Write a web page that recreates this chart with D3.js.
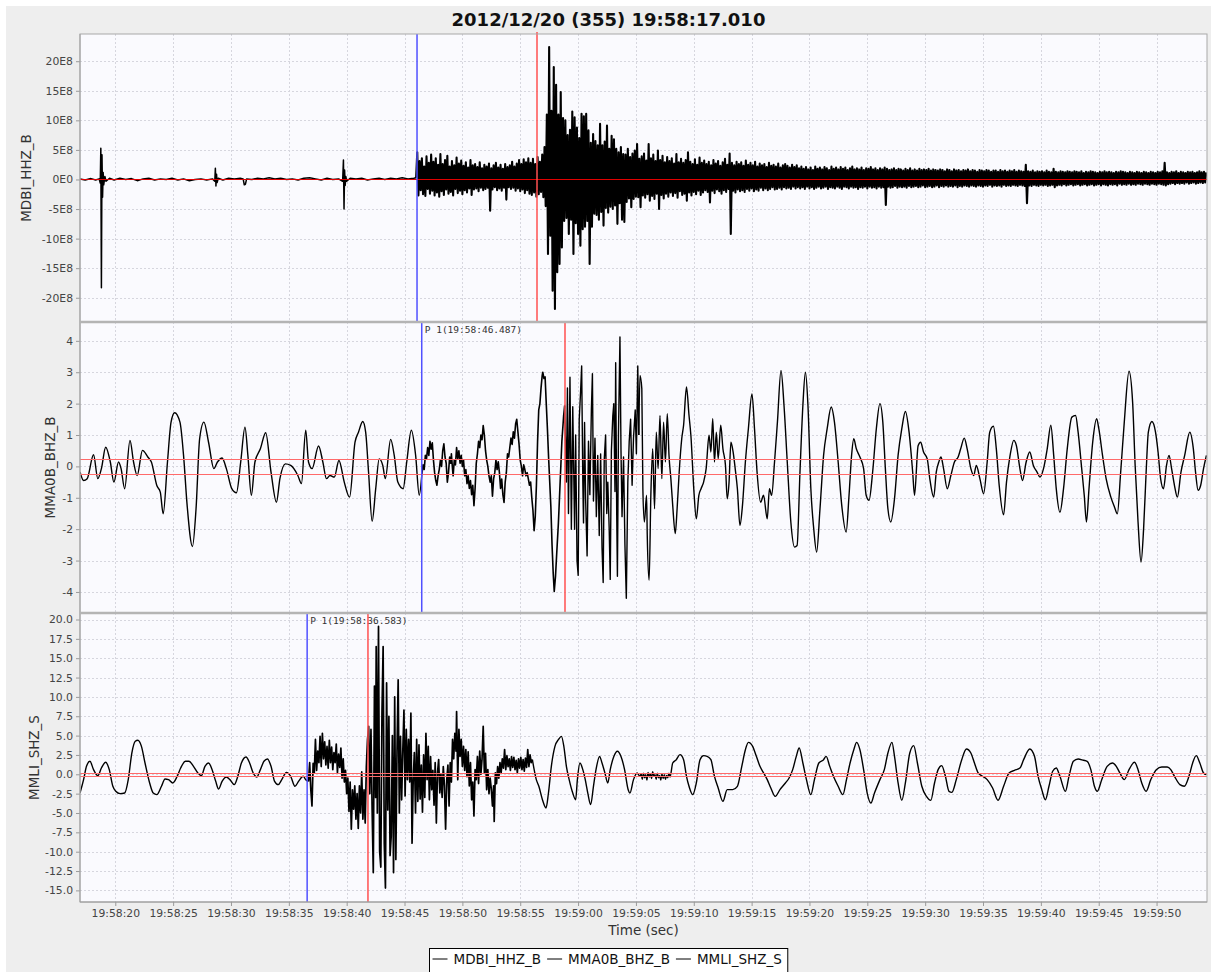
<!DOCTYPE html>
<html><head><meta charset="utf-8">
<script src="https://cdn.jsdelivr.net/npm/d3@7"></script>
<style>
body{margin:0;background:#fff;}
svg{display:block;font-family:"DejaVu Sans",sans-serif;}
</style></head><body>
<svg id="chart" width="1211" height="972"></svg>
<script>
// ---------------- DATA ----------------
const titleText = "2012/12/20 (355) 19:58:17.010";
const timeDomain = [16.95, 114.36]; // seconds after 19:58:00
const timeTickSeconds = [20,25,30,35,40,45,50,55,60,65,70,75,80,85,90,95,100,105,110];
const timeTickLabels = ["19:58:20","19:58:25","19:58:30","19:58:35","19:58:40","19:58:45","19:58:50","19:58:55","19:59:00","19:59:05","19:59:10","19:59:15","19:59:20","19:59:25","19:59:30","19:59:35","19:59:40","19:59:45","19:59:50"];
const seriesNames = ["MDBI_HHZ_B","MMA0B_BHZ_B","MMLI_SHZ_S"];

// Station 1 : MDBI_HHZ_B (units of 1E8)
const mdbiTicks = [-20,-15,-10,-5,0,5,10,15,20];
const mdbiTickLabels = ["-20E8","-15E8","-10E8","-5E8","0E0","5E8","10E8","15E8","20E8"];
const mdbiRef = [0];
const mdbiPicks = [{t:46.08,kind:"P",label:""},{t:56.45,kind:"S",label:""}];
const mdbiQuiet = [[16.95,0.1],[17.4,-0.1],[17.9,0.15],[18.3,-0.1],[18.6,0.1],[18.7,-0.6],[18.75,5.3],[18.8,-18.3],[18.85,4.2],[18.9,-3.0],[18.95,1.2],[19.0,-0.9],[19.1,0.5],[19.2,-0.3],[19.5,0.2],[19.9,-0.1],[20.4,0.2],[20.9,0.0],[21.4,0.15],[21.9,-0.2],[22.4,0.1],[22.9,0.2],[23.4,-0.1],[23.9,0.1],[24.4,0.0],[24.9,0.2],[25.4,-0.1],[25.9,0.1],[26.4,-0.2],[26.9,0.0],[27.4,0.1],[27.9,-0.1],[28.4,0.1],[28.6,-0.3],[28.65,1.9],[28.7,-1.1],[28.75,0.9],[28.8,-0.5],[28.9,0.2],[29.3,-0.1],[29.8,0.2],[30.3,0.1],[30.8,0.2],[31.05,0.1],[31.15,-0.9],[31.25,-0.8],[31.35,0.1],[31.8,0.0],[32.3,0.2],[32.8,0.1],[33.3,0.3],[33.8,0.1],[34.3,0.2],[34.8,0.0],[35.3,0.1],[35.8,-0.1],[36.3,0.2],[36.8,0.3],[37.3,0.1],[37.8,-0.1],[38.3,0.2],[38.8,0.0],[39.3,0.1],[39.65,-0.3],[39.72,3.3],[39.77,-5.0],[39.82,1.6],[39.87,-1.0],[39.93,0.5],[40.0,-0.3],[40.3,0.2],[40.8,0.1],[41.3,0.2],[41.8,-0.1],[42.3,0.1],[42.8,0.2],[43.3,0.0],[43.8,0.2],[44.3,0.1],[44.8,0.3],[45.3,0.1],[45.8,0.2],[46.0,0.3]];
const mdbiBurstStart = 46.1, mdbiSampleStep = 0.1;
const mdbiBurst = [
4.6,-2.7,3.1,-1.8,3.6,-2.5,2.2,-2.8,3.9,-1.6,
2.8,-2.4,4.2,-1.9,3.0,-2.7,3.6,-2.2,2.5,-2.9,
4.3,-2.0,2.6,-2.6,3.3,-1.7,4.0,-2.4,2.2,-2.1,
3.1,-2.7,2.4,-1.6,3.7,-2.3,2.7,-1.9,3.2,-2.5,
2.3,-1.8,2.9,-2.2,2.0,-1.5,3.3,-2.6,2.4,-1.7,
2.6,-1.5,2.1,-2.0,2.9,-1.4,1.9,-1.8,2.5,-1.6,
2.2,-1.4,2.7,-5.3,1.9,-1.7,2.4,-1.3,2.8,-1.8,
2.0,-1.5,2.5,-1.9,1.8,-1.4,2.6,-3.4,2.1,-1.3,
2.4,-1.6,3.0,-1.4,2.2,-1.9,2.7,-1.5,3.3,-2.0,
2.6,-1.7,3.4,-2.3,2.9,-1.8,3.6,-2.4,2.8,-2.6,
3.5,-2.2,2.6,-2.9,3.8,-2.5,3.0,-2.1,4.2,-3.0,
5.5,-4.5,11.0,-12.6,22.4,-9.5,11.6,-18.8,19.0,-21.9,
16.0,-15.7,11.0,-14.3,14.8,-11.5,10.4,-7.0,10.0,-6.5,
7.5,-9.2,8.4,-6.8,11.5,-12.6,10.5,-7.4,8.8,-9.2,
7.0,-11.2,11.1,-8.4,10.7,-8.0,11.1,-7.0,8.3,-14.3,
6.2,-8.0,7.7,-5.8,6.5,-6.0,5.8,-6.8,9.4,-5.5,
5.8,-7.8,6.4,-4.8,9.1,-5.6,5.2,-4.6,7.4,-5.0,
6.8,-4.4,5.2,-7.5,4.6,-4.0,5.5,-6.8,4.3,-7.2,
4.2,-3.8,5.2,-3.2,3.8,-4.7,4.4,-3.3,4.9,-2.9,
6.0,-3.0,3.5,-4.7,3.9,-2.7,4.4,-3.1,3.2,-2.5,
6.0,-3.6,3.6,-2.8,4.2,-3.3,3.1,-2.4,4.9,-5.0,
3.3,-2.6,4.0,-3.2,2.9,-2.4,3.8,-2.9,3.1,-2.2,
3.6,-2.8,2.7,-2.3,4.3,-3.1,2.9,-2.0,3.5,-2.6,
2.8,-2.4,3.3,-3.6,4.6,-2.2,3.0,-2.7,2.6,-2.1,
3.4,-2.5,2.5,-1.9,3.7,-2.6,2.8,-2.2,3.2,-1.8,
2.6,-2.1,3.0,-3.9,2.4,-1.9,3.3,-2.3,2.7,-1.7,
3.1,-2.0,2.3,-2.4,2.9,-1.8,3.5,-2.1,2.5,-1.6,
4.4,-9.2,2.8,-1.9,2.4,-2.2,3.0,-1.7,2.6,-2.0,
2.9,-1.8,2.3,-2.1,3.2,-1.6,2.5,-1.9,2.8,-1.5,
2.4,-2.0,3.0,-1.7,2.2,-1.9,2.7,-1.4,2.4,-1.8,
2.6,-1.5,2.1,-1.8,2.8,-1.6,2.3,-1.3,2.5,-1.7,
2.2,-1.6,2.7,-1.4,2.0,-1.7,2.4,-1.3,2.6,-1.5,
2.3,-1.4,2.0,-1.6,2.5,-1.2,2.1,-1.5,2.4,-1.3,
1.9,-1.5,2.2,-1.3,1.8,-1.6,2.1,-1.2,1.7,-1.5,
2.0,-1.3,1.6,-1.6,2.2,-1.4,1.8,-1.2,2.0,-1.5,
1.7,-1.4,2.1,-1.2,1.9,-1.6,1.6,-1.3,2.2,-1.4,
1.8,-1.5,2.0,-1.2,1.7,-1.4,2.1,-1.6,1.8,-1.2,
2.0,-1.3,1.6,-1.5,1.9,-1.2,2.2,-1.4,1.7,-1.3,
1.9,-1.6,1.7,-1.3,2.0,-1.4,1.6,-1.2,1.9,-1.5,
1.8,-1.2,2.1,-1.4,1.7,-1.3,1.9,-1.5,1.6,-1.2,
1.9,-1.4,1.7,-1.3,2.0,-4.3,1.8,-1.2,1.6,-1.4,
1.7,-1.3,1.9,-1.1,1.6,-1.4,1.8,-1.2,1.7,-1.3,
1.5,-1.2,1.8,-1.4,1.6,-1.1,1.9,-1.3,1.5,-1.2,
1.7,-1.1,1.5,-1.3,1.8,-1.2,1.6,-1.0,1.7,-1.3,
1.6,-1.2,1.8,-1.1,1.5,-1.3,1.7,-1.2,1.6,-1.0,
1.5,-1.3,1.7,-1.1,1.6,-1.2,1.4,-1.0,1.7,-1.2,
1.6,-1.1,1.4,-1.2,1.7,-1.0,1.5,-1.3,1.6,-1.1,
1.4,-1.2,1.6,-1.0,1.5,-1.1,1.7,-1.2,1.4,-1.0,
1.6,-1.1,1.5,-1.2,1.3,-1.0,1.6,-1.1,1.5,-1.2,
1.4,-1.0,1.6,-1.1,1.5,-0.9,1.3,-1.2,1.5,-1.0,
1.5,-1.1,1.3,-1.0,1.6,-1.2,1.4,-0.9,1.5,-1.1,
1.3,-1.0,1.5,-1.1,1.4,-0.9,1.6,-1.0,1.3,-1.1,
1.5,-0.9,1.4,-1.0,1.3,-1.1,2.5,-4.0,1.4,-1.0,
1.3,-1.1,1.5,-0.9,1.2,-1.0,1.4,-1.1,1.3,-0.9,
1.4,-1.0,1.2,-0.9,1.5,-1.1,1.3,-1.0,1.2,-0.9,
1.8,-1.3,1.3,-1.0,1.2,-0.9,1.4,-1.0,1.3,-0.8,
1.2,-1.0,1.4,-0.9,1.3,-0.8,1.2,-1.0,1.4,-0.9,
1.3,-0.8,1.2,-1.0,1.4,-0.9,1.1,-0.8,1.3,-1.0,
1.2,-0.9,1.4,-0.8,1.3,-1.0,1.2,-0.9,1.1,-0.8,
1.3,-1.0,1.2,-0.8,1.4,-0.9,1.2,-1.0,1.3,-0.8,
1.2,-0.9,1.1,-0.8,1.3,-1.0,1.2,-0.7,1.4,-0.9,
1.3,-0.8,1.2,-0.9,1.1,-0.7,1.3,-0.9,1.2,-0.8,
1.1,-0.9,1.3,-0.7,1.2,-0.8,1.1,-0.9,1.3,-0.7,
1.2,-0.8,1.1,-0.9,1.3,-0.7,1.2,-0.8,1.1,-0.9,
1.3,-0.7,1.2,-0.8,1.4,-0.9,2.8,-1.0,1.2,-0.8,
1.1,-0.7,1.3,-0.6,1.2,-0.8,1.4,-0.6,1.1,-0.7,
1.3,-0.6,1.2,-0.7,1.1,-0.5,1.3,-0.7,1.2,-0.6,
1.3,-0.5,1.1,-0.7,1.2,-0.6,1.4,-0.5,1.2,-0.6,1.3,-0.5,1.2];

// Station 2 : MMA0B_BHZ_B
const mma0bTicks = [-4,-3,-2,-1,0,1,2,3,4];
const mma0bTickLabels = ["-4","-3","-2","-1","0","1","2","3","4"];
const mma0bRef = [0.22,-0.25];
const mma0bPicks = [{t:46.487,kind:"P",label:"P 1(19:58:46.487)"},{t:58.87,kind:"S",label:""}];
const mma0bPre = [[16.95,-0.18],[17.26,-0.45],[17.57,-0.39],[18.12,0.37],[18.49,-0.39],[18.80,-0.07],[19.17,0.61],[19.57,0.14],[19.88,-0.50],[20.28,0.14],[20.50,-0.07],[20.81,-0.71],[21.27,0.83],[21.58,0.14],[21.89,-0.29],[22.35,0.51],[22.81,0.30],[23.12,0.14],[23.59,-0.61],[23.89,-0.82],[24.14,-1.51],[24.51,0.14],[24.82,1.41],[25.13,1.71],[25.59,1.41],[25.90,0.35],[26.21,-1.24],[26.67,-2.55],[26.98,-1.35],[27.29,0.88],[27.66,1.41],[28.06,0.77],[28.52,-0.07],[28.83,0.14],[29.23,0.27],[29.60,-0.07],[30.07,-0.71],[30.47,-0.84],[30.84,0.14],[31.21,1.25],[31.46,0.35],[31.76,-0.92],[32.07,0.14],[32.54,0.56],[33.00,1.07],[33.46,-0.18],[33.93,-1.14],[34.23,-0.39],[34.70,0.08],[35.16,0.03],[35.78,-0.29],[36.09,-0.55],[36.46,1.15],[36.70,0.14],[37.01,-0.07],[37.57,0.65],[37.94,0.14],[38.25,-0.39],[38.56,-0.29],[38.93,-0.34],[39.33,0.19],[39.79,-0.50],[40.25,-0.98],[40.72,0.77],[41.02,1.09],[41.39,1.43],[41.64,1.09],[41.89,-0.18],[42.20,-1.75],[42.51,-0.71],[42.81,0.24],[43.12,0.03],[43.34,-0.39],[43.80,0.86],[44.11,0.35],[44.42,-0.50],[44.88,-0.71],[45.19,0.14],[45.59,1.15],[45.96,0.35],[46.27,-0.92],[46.49,-0.29]];
const mma0bOnset = [[46.6,0.05],[46.7,-0.1],[46.8,0.35],[46.9,0.25],[47.0,0.6],[47.1,0.35],[47.2,0.8],[47.3,0.55],[47.4,0.75],[47.5,0.2],[47.6,-0.2],[47.7,-0.45],[47.8,-0.6],[47.9,-0.3],[48.0,-0.1],[48.1,0.2],[48.2,0.0],[48.3,0.5],[48.4,0.72],[48.5,0.3],[48.6,0.1],[48.7,-0.5],[48.8,-0.2],[48.9,0.3],[49.0,0.1],[49.05,0.4],[49.15,-0.1],[49.2,-0.3],[49.3,0.2],[49.4,0.05],[49.5,0.6],[49.6,0.25],[49.7,0.5],[49.8,0.1],[49.9,0.35],[50.0,0.0],[50.1,0.2],[50.2,-0.3],[50.3,-0.1],[50.4,-0.55],[50.5,-0.3],[50.6,-0.7],[50.7,-0.45],[50.8,-0.9],[50.9,-0.6],[51.0,-1.25],[51.1,-0.7],[51.2,0.1],[51.3,0.4],[51.4,0.8],[51.5,0.6],[51.6,1.0],[51.7,0.85],[51.8,1.3],[51.9,1.0],[52.0,0.5],[52.1,0.2],[52.2,0.0],[52.3,-0.3],[52.4,-0.5],[52.5,-0.3],[52.6,-0.95],[52.7,-0.4],[52.8,-0.2],[52.9,0.2],[53.0,-0.1],[53.1,0.15],[53.2,-0.2],[53.3,-0.7],[53.4,-0.4],[53.5,-0.9],[53.6,-1.15],[53.7,-0.5],[53.8,-0.2],[53.9,0.4],[54.0,0.3],[54.1,0.6],[54.2,0.9],[54.3,0.7],[54.4,1.1],[54.5,0.9],[54.6,1.35],[54.7,1.5],[54.8,1.1],[54.9,0.7],[55.0,0.2],[55.1,0.0],[55.2,-0.3],[55.3,0.05],[55.4,-0.1],[55.5,-0.3],[55.6,-0.2],[55.7,-0.4],[55.8,-0.6],[55.9,-0.5],[56.0,-1.0],[56.1,-1.4],[56.2,-2.05],[56.3,-1.6],[56.4,-0.6],[56.5,0.8],[56.6,1.8],[56.7,2.0],[56.8,2.5],[56.9,2.9],[56.95,3.0],[57.05,2.8],[57.15,2.85],[57.25,2.0],[57.35,1.2],[57.45,0.3],[57.55,-0.5],[57.65,-1.3],[57.75,-2.5],[57.85,-3.4],[57.94,-3.98],[58.05,-3.5],[58.15,-2.8],[58.3,-1.8],[58.45,-0.5],[58.6,0.8],[58.75,1.6],[58.84,1.94]];
const mma0bPeak = [[58.99,-0.5],[59.08,2.5],[59.17,-1.5],[59.30,2.84],[59.42,-2.0],[59.54,1.9],[59.70,-2.0],[59.79,1.0],[59.91,-3.0],[60.01,-3.47],[60.10,1.5],[60.22,2.4],[60.31,3.2],[60.41,-0.5],[60.47,-1.8],[60.56,1.4],[60.65,-1.0],[60.78,-2.85],[60.90,0.8],[61.02,-0.9],[61.15,1.8],[61.24,2.95],[61.33,-1.1],[61.46,0.9],[61.58,-1.6],[61.70,0.35],[61.83,-2.2],[61.95,0.4],[62.07,-2.6],[62.17,-3.7],[62.26,0.2],[62.38,1.0],[62.48,-1.5],[62.57,-0.5],[62.69,-2.0],[62.78,-3.6],[62.88,0.5],[63.00,1.6],[63.09,2.0],[63.19,-0.8],[63.25,3.3],[63.34,-1.5],[63.40,-3.5],[63.49,1.0],[63.62,4.12],[63.71,0.5],[63.80,-1.6],[63.93,0.3],[64.05,-2.5],[64.17,-4.2],[64.30,-0.5],[64.42,0.8],[64.54,1.5],[64.67,-0.6],[64.79,0.9],[64.94,1.8],[65.04,0.4],[65.16,3.2],[65.25,1.0]];
const mma0bCoda = [[65.35,2.90],[65.51,2.47],[65.60,-0.71],[65.73,-1.77],[65.92,-0.92],[65.98,-2.20],[66.14,-3.63],[66.29,-0.92],[66.45,0.56],[66.61,-1.35],[66.76,1.09],[66.92,-0.07],[67.08,1.62],[67.24,-0.39],[67.39,1.41],[67.55,0.14],[67.71,1.68],[67.86,0.35],[68.02,-0.39],[68.18,-1.24],[68.40,-2.14],[68.56,-1.35],[68.74,-0.18],[68.96,0.88],[69.12,1.31],[69.37,2.53],[69.59,1.62],[69.75,0.99],[70.0,-0.71],[70.22,-1.67],[70.44,-0.92],[70.63,-0.71],[70.85,-0.50],[71.07,-0.07],[71.32,0.99],[71.48,0.46],[71.64,1.52],[71.79,0.14],[71.95,1.09],[72.11,0.24],[72.33,1.31],[72.52,0.56],[72.74,0.03],[72.89,-1.03],[73.05,-0.50],[73.21,0.77],[73.40,0.46],[73.58,-0.07],[73.77,-0.71],[73.99,-1.88],[74.21,-1.24],[74.46,0.14],[74.72,1.20],[75.03,2.31],[75.25,1.20],[75.47,-0.18],[75.78,-1.14],[76.03,-0.92],[76.35,-1.67],[76.54,-0.71],[76.73,-0.92],[76.98,0.14],[77.23,1.41],[77.54,3.06],[77.80,1.94],[78.08,0.14],[78.39,-1.77],[78.71,-2.57],[78.93,-2.52],[79.18,-0.18],[79.43,1.94],[79.65,3.0],[79.87,1.94],[80.12,-0.71],[80.37,-1.99],[80.62,-2.73],[80.91,-1.35],[81.22,0.35],[81.53,1.20],[81.88,1.89],[82.16,1.41],[82.48,0.14],[82.79,-1.24],[83.17,-2.09],[83.42,-0.92],[83.64,0.35],[83.83,0.88],[84.05,0.56],[84.36,0.30],[84.68,-0.07],[84.90,-0.92],[85.15,-1.08],[85.46,-0.18],[85.78,1.20],[86.09,2.0],[86.34,1.41],[86.56,-0.07],[86.78,-1.35],[87.03,-1.77],[87.35,-1.03],[87.66,0.35],[87.98,1.20],[88.29,1.75],[88.61,1.09],[88.92,-0.18],[89.08,-0.92],[89.39,0.66],[89.61,0.77],[89.86,0.46],[90.18,0.24],[90.40,-0.39],[90.74,-0.98],[90.96,-0.18],[91.18,0.14],[91.37,0.30],[91.59,-0.07],[91.91,-0.71],[92.22,-0.29],[92.53,0.14],[92.85,0.30],[93.07,0.56],[93.38,0.90],[93.63,0.56],[93.95,-0.07],[94.20,-0.29],[94.42,0.03],[94.73,-0.39],[95.05,-0.87],[95.36,0.14],[95.58,1.09],[95.90,1.28],[96.15,0.56],[96.40,-0.61],[96.78,-1.54],[97.03,-0.50],[97.34,0.35],[97.66,0.83],[97.88,0.67],[98.19,-0.07],[98.41,-0.45],[98.73,0.14],[99.04,0.46],[99.35,0.03],[99.67,-0.18],[99.92,-0.34],[100.23,-0.07],[100.55,0.56],[100.86,1.31],[101.11,0.35],[101.33,-0.71],[101.65,-1.46],[101.96,-0.71],[102.28,0.56],[102.68,1.57],[103.0,1.62],[103.22,1.09],[103.53,-0.07],[103.75,-0.92],[103.94,-1.77],[104.16,-0.71],[104.48,0.77],[104.82,1.52],[105.01,1.20],[105.33,0.35],[105.64,-0.39],[106.05,-0.98],[106.36,-1.29],[106.61,-1.51],[106.90,-0.18],[107.21,1.41],[107.62,3.03],[107.93,2.05],[108.15,0.03],[108.40,-1.77],[108.66,-3.05],[108.88,-1.99],[109.10,-0.18],[109.29,1.09],[109.60,1.43],[109.91,1.09],[110.13,0.46],[110.35,-0.39],[110.60,-0.71],[110.86,0.03],[111.08,0.35],[111.30,-0.07],[111.55,-0.61],[111.80,-0.98],[112.11,-0.18],[112.43,0.35],[112.87,1.09],[113.18,0.56],[113.37,-0.18],[113.59,-0.76],[113.81,-0.61],[114.06,-0.07],[114.31,0.35]];

// Station 3 : MMLI_SHZ_S
const mmliTicks = [-15,-12.5,-10,-7.5,-5,-2.5,0,2.5,5,7.5,10,12.5,15,17.5,20];
const mmliTickLabels = ["-15.0","-12.5","-10.0","-7.5","-5.0","-2.5","0.0","2.5","5.0","7.5","10.0","12.5","15.0","17.5","20.0"];
const mmliRef = [0.21,-0.22];
const mmliPicks = [{t:36.583,kind:"P",label:"P 1(19:58:36.583)"},{t:41.84,kind:"S",label:""}];
const mmliPre = [[16.95,-2.42],[17.26,-0.69],[17.51,1.03],[17.81,1.68],[18.12,0.60],[18.49,-0.18],[18.80,0.81],[19.17,1.55],[19.48,0.60],[19.79,-1.55],[20.04,-2.20],[20.41,-2.50],[20.81,-2.42],[21.12,-0.69],[21.43,2.75],[21.73,4.26],[21.95,4.39],[22.26,3.61],[22.57,1.46],[22.97,-1.12],[23.28,-2.42],[23.59,-2.63],[23.99,-1.55],[24.30,-0.61],[24.60,-0.69],[24.97,-1.12],[25.35,-0.26],[25.65,0.81],[26.06,1.68],[26.36,1.68],[26.76,1.03],[27.14,0.17],[27.44,-0.18],[27.75,1.03],[28.06,1.46],[28.37,0.60],[28.68,-0.91],[28.93,-1.90],[29.23,-0.91],[29.60,-0.35],[29.91,-0.69],[30.28,-1.34],[30.59,-0.26],[30.90,1.46],[31.30,2.24],[31.61,1.46],[31.92,0.17],[32.23,-0.35],[32.54,0.60],[32.85,1.68],[33.15,1.98],[33.46,1.03],[33.77,-0.91],[34.08,-1.34],[34.39,-0.69],[34.79,0.25],[35.16,-0.26],[35.53,-1.55],[35.84,-0.91],[36.24,-0.26],[36.46,-0.69],[36.70,-0.91]];
const mmliBurst = [[36.8,1.5],[36.9,-2.0],[37.0,-4.1],[37.1,1.4],[37.2,0.2],[37.3,4.5],[37.4,0.5],[37.5,3.0],[37.6,1.5],[37.7,4.9],[37.8,1.0],[37.9,5.3],[38.0,2.0],[38.1,4.2],[38.2,1.2],[38.3,3.6],[38.4,0.8],[38.5,4.4],[38.6,1.5],[38.7,3.5],[38.8,0.6],[38.9,2.8],[39.0,1.5],[39.1,3.9],[39.2,0.2],[39.3,2.6],[39.4,0.9],[39.5,3.4],[39.6,-0.5],[39.7,2.0],[39.8,-1.0],[39.9,0.5],[40.0,-2.5],[40.1,-0.5],[40.2,-4.8],[40.3,-1.0],[40.4,-7.1],[40.5,-2.0],[40.6,-4.5],[40.7,-1.5],[40.8,-5.8],[40.9,-2.5],[41.0,-7.0],[41.1,-1.5],[41.2,-5.0],[41.3,0.3],[41.4,-5.8],[41.5,-2.0],[41.6,-6.3],[41.7,1.0],[41.8,4.5],[41.9,6.2],[42.0,-2.5],[42.1,5.8],[42.2,-4.6],[42.3,-12.7],[42.4,11.4],[42.5,-3.0],[42.55,16.5],[42.65,-5.0],[42.75,19.1],[42.85,-10.0],[42.95,-12.0],[43.05,8.0],[43.15,16.5],[43.25,-9.0],[43.35,-14.7],[43.45,11.8],[43.55,-4.6],[43.65,7.5],[43.75,-10.5],[43.85,-8.0],[43.95,5.0],[44.05,-12.7],[44.15,10.0],[44.25,-11.0],[44.35,3.0],[44.45,12.2],[44.55,-5.0],[44.65,4.9],[44.75,-3.3],[44.85,3.0],[44.95,8.3],[45.05,-2.8],[45.15,5.8],[45.25,-0.7],[45.35,4.5],[45.45,-1.0],[45.55,7.9],[45.65,-8.9],[45.75,-0.7],[45.85,2.8],[45.95,-5.0],[46.05,4.5],[46.15,-3.5],[46.25,3.8],[46.35,-3.2],[46.45,1.2],[46.55,-4.9],[46.65,2.5],[46.75,-3.0],[46.85,5.3],[46.95,-0.7],[47.05,3.6],[47.15,-3.3],[47.25,2.3],[47.35,-2.0],[47.45,0.5],[47.55,-4.0],[47.65,1.5],[47.75,-6.3],[47.85,0.2],[47.95,1.9],[48.05,-2.4],[48.15,0.0],[48.25,-3.0],[48.35,1.0],[48.45,-1.5],[48.55,-7.1],[48.65,-0.7],[48.75,1.2],[48.85,-4.1],[48.95,1.5],[49.05,-1.0],[49.15,4.5],[49.25,2.0],[49.35,5.3],[49.45,3.0],[49.5,8.1],[49.6,-0.7],[49.7,5.8],[49.8,2.3],[49.9,4.5],[50.0,1.0],[50.1,3.6],[50.2,0.5],[50.3,3.2],[50.4,-0.3],[50.5,2.9],[50.6,-1.5],[50.7,1.5],[50.8,-3.3],[50.9,-1.0],[51.0,-5.4],[51.1,0.6],[51.2,-0.7],[51.3,2.3],[51.4,-1.2],[51.5,3.0],[51.6,0.0],[51.7,2.0],[51.8,6.2],[51.9,0.2],[52.0,2.7],[52.1,-2.0],[52.2,0.6],[52.3,-2.5],[52.4,-0.5],[52.5,-1.9],[52.6,-4.1],[52.7,-1.5],[52.75,-6.1],[52.85,0.2],[52.95,-1.2],[53.05,1.0],[53.15,-0.5],[53.25,1.5],[53.35,0.2],[53.45,2.0],[53.55,0.8],[53.65,3.2],[53.75,0.6],[53.85,2.4],[53.95,1.0],[54.05,2.0],[54.15,0.5],[54.25,2.3],[54.35,0.9],[54.45,2.2],[54.55,0.6],[54.65,1.8],[54.75,0.2],[54.85,2.0],[54.95,0.8],[55.05,2.2],[55.15,0.6],[55.25,1.9],[55.35,0.4],[55.45,2.1],[55.55,0.9],[55.65,3.2],[55.75,1.0],[55.85,2.5],[55.95,1.5],[56.05,1.9]];
const mmliPost = [[56.39,-0.69],[56.61,-1.55],[56.92,-3.28],[57.23,-4.35],[57.44,-2.42],[57.69,1.03],[58.0,3.61],[58.31,4.5],[58.56,4.9],[58.77,3.61],[58.99,1.03],[59.23,-0.69],[59.54,-2.42],[59.79,-3.28],[59.94,-0.69],[60.16,1.46],[60.41,0.6],[60.62,-0.69],[60.84,-2.42],[61.09,-3.92],[61.33,-1.55],[61.55,0.6],[61.86,2.3],[62.07,1.46],[62.32,0.17],[62.57,-1.12],[62.78,0.6],[63.09,2.3],[63.4,2.97],[63.71,2.3],[64.02,0.6],[64.33,-2.0],[64.48,-2.42],[64.79,-0.69],[65.1,0.17],[65.35,-0.26],[65.45,0.05],[65.55,-0.65],[65.65,0.15],[65.75,-0.45],[65.85,-0.05],[65.95,-0.75],[66.05,0.25],[66.15,-0.35],[66.25,0.05],[66.35,-0.55],[66.45,0.35],[66.55,-0.25],[66.65,-0.05],[66.75,-0.65],[66.85,0.15],[66.95,-0.45],[67.05,-0.15],[67.15,-0.75],[67.25,0.05],[67.35,-0.55],[67.45,-0.05],[67.55,-0.65],[67.65,-0.15],[67.75,-0.45],[67.85,0.15],[67.95,-0.35],[68.18,1.46],[68.49,1.89],[68.81,2.54],[69.12,1.89],[69.37,-0.26],[69.59,-1.55],[69.91,-2.63],[70.22,-1.12],[70.54,1.89],[70.85,2.41],[71.16,2.32],[71.48,1.89],[71.79,-0.26],[72.11,-1.77],[72.52,-3.49],[72.89,-1.98],[73.36,-1.98],[73.77,-1.55],[74.15,1.03],[74.46,3.18],[74.72,4.13],[75.09,3.61],[75.41,2.32],[75.72,1.03],[76.04,0.17],[76.35,-0.69],[76.66,-1.77],[77.04,-2.85],[77.45,-1.98],[77.92,-1.12],[78.24,-0.48],[78.55,0.60],[78.86,2.32],[79.11,3.40],[79.43,1.46],[79.74,-0.69],[80.12,-2.63],[80.43,-0.69],[80.81,1.46],[81.22,1.89],[81.44,2.32],[81.75,1.03],[82.07,-0.26],[82.48,-1.55],[82.89,-2.63],[83.20,-0.69],[83.51,1.46],[83.83,3.18],[84.08,4.13],[84.36,3.18],[84.68,0.60],[84.99,-2.42],[85.31,-3.71],[85.62,-2.42],[86.09,-0.69],[86.47,0.60],[86.78,2.75],[87.13,4.13],[87.35,2.32],[87.66,-1.12],[87.98,-3.36],[88.29,-1.12],[88.67,2.75],[89.01,3.70],[89.33,1.46],[89.71,-1.55],[90.11,-2.85],[90.49,-3.36],[90.81,-1.12],[91.12,0.60],[91.43,1.12],[91.75,-0.26],[92.06,-2.20],[92.31,-2.33],[92.69,-0.69],[93.16,1.89],[93.57,3.27],[93.95,2.75],[94.26,1.46],[94.58,0.17],[94.89,-0.18],[95.36,-0.69],[95.83,-1.77],[96.30,-3.36],[96.78,-1.55],[97.25,0.17],[97.72,0.51],[98.19,0.81],[98.51,1.89],[99.04,3.27],[99.45,2.32],[99.76,-0.26],[100.08,-1.98],[100.39,-3.28],[100.70,-1.55],[101.02,0.39],[101.33,0.81],[101.65,-0.26],[102.12,-2.20],[102.43,-0.26],[102.81,1.68],[103.22,1.98],[103.69,1.81],[104.0,1.68],[104.32,0.60],[104.63,-1.55],[104.88,-2.20],[105.26,-0.69],[105.73,1.03],[106.20,1.46],[106.52,1.03],[106.83,0.17],[107.21,-0.69],[107.62,0.60],[108.09,1.55],[108.40,0.60],[108.72,-1.12],[109.10,-2.20],[109.50,-0.69],[109.98,0.60],[110.45,0.94],[110.92,0.94],[111.23,0.60],[111.55,-0.26],[112.02,-1.34],[112.40,-1.55],[112.80,-0.26],[113.12,1.46],[113.43,2.41],[113.74,1.46],[114.06,0.17],[114.31,-0.05]];

// ---------------- DRAWING ----------------
const W = 1211, H = 972;
const left = 80, right = 1207;
const svg = d3.select("#chart");
svg.append("rect").attr("x",6).attr("y",6).attr("width",W-6).attr("height",H-6).attr("fill","#eeeeee");

svg.append("text").attr("x",608.5).attr("y",26).attr("text-anchor","middle")
  .attr("font-size","18px").attr("font-weight","bold").attr("fill","#111").text(titleText);

const x = d3.scaleLinear().domain(timeDomain).range([left, right]);

const mdbiBurstPairs = mdbiBurst.map((v,i)=>[mdbiBurstStart + i*mdbiSampleStep, v]);
const panels = [
  {name:seriesNames[0], top:34, bottom:322, domain:[-24.1,24.6], ticks:mdbiTicks, labels:mdbiTickLabels, ref:mdbiRef, picks:mdbiPicks, labelX:31, refColor:"#e00000",
   pieces:[{data:mdbiQuiet, curve:d3.curveLinear, sw:1.5},{data:mdbiBurstPairs, curve:d3.curveLinear, sw:2.1}]},
  {name:seriesNames[1], top:322, bottom:613, domain:[-4.67,4.6], ticks:mma0bTicks, labels:mma0bTickLabels, ref:mma0bRef, picks:mma0bPicks, labelX:55, refColor:"#ff6a6a",
   pieces:[{data:mma0bPre, curve:d3.curveMonotoneX, sw:1.4},{data:mma0bOnset, curve:d3.curveLinear, sw:1.6},{data:mma0bPeak, curve:d3.curveLinear, sw:1.4},{data:mma0bCoda, curve:d3.curveMonotoneX, sw:1.4}]},
  {name:seriesNames[2], top:613, bottom:902, domain:[-16.5,20.84], ticks:mmliTicks, labels:mmliTickLabels, ref:mmliRef, picks:mmliPicks, labelX:39, refColor:"#ff6a6a",
   pieces:[{data:mmliPre, curve:d3.curveMonotoneX, sw:1.4},{data:mmliBurst, curve:d3.curveLinear, sw:1.7},{data:mmliPost, curve:d3.curveMonotoneX, sw:1.4}]}
];

const pickColor = {P:"#5050ff", S:"#ff5050"};
const snap = v => Math.round(v) + 0.5;

panels.forEach((p,pi)=>{
  const y = d3.scaleLinear().domain(p.domain).range([p.bottom, p.top]);
  const g = svg.append("g");
  g.append("rect").attr("x",left).attr("y",p.top).attr("width",right-left).attr("height",p.bottom-p.top).attr("fill","#fafafe");
  g.selectAll(null).data(timeTickSeconds).join("line")
    .attr("x1",d=>snap(x(d))).attr("x2",d=>snap(x(d))).attr("y1",p.top).attr("y2",p.bottom)
    .attr("stroke","#d6d6de").attr("stroke-width",1).attr("stroke-dasharray","2,2");
  g.selectAll(null).data(p.ticks).join("line")
    .attr("x1",left).attr("x2",right).attr("y1",d=>snap(y(d))).attr("y2",d=>snap(y(d)))
    .attr("stroke","#d6d6de").attr("stroke-width",1).attr("stroke-dasharray","2,2");
  const clipId = "clip"+pi;
  svg.append("clipPath").attr("id",clipId).append("rect")
    .attr("x",left).attr("y",p.top).attr("width",right-left).attr("height",p.bottom-p.top);
  const cg = g.append("g").attr("clip-path",`url(#${clipId})`);
  p.pieces.forEach((pc,k)=>{
    const pts = k>0 ? [p.pieces[k-1].data[p.pieces[k-1].data.length-1]].concat(pc.data) : pc.data;
    const line = d3.line().x(d=>x(d[0])).y(d=>y(d[1])).curve(pc.curve);
    cg.append("path").attr("d",line(pts)).attr("fill","none").attr("stroke","#000")
      .attr("stroke-width",pc.sw).attr("stroke-linejoin","round");
  });
  cg.selectAll(null).data(p.ref).join("line")
    .attr("x1",left).attr("x2",right).attr("y1",d=>snap(y(d))).attr("y2",d=>snap(y(d)))
    .attr("stroke",p.refColor).attr("stroke-width",1);
  p.picks.forEach(pk=>{
    const px = x(pk.t);
    const y1 = pi===0 && pk.kind==="S" ? p.top-2 : p.top;
    const y2 = pi===0 && pk.kind==="S" ? p.bottom+4 : p.bottom;
    svg.append("line").attr("x1",px).attr("x2",px).attr("y1",y1).attr("y2",y2)
      .attr("stroke",pickColor[pk.kind]).attr("stroke-width",1.5);
    if(pk.label){
      svg.append("text").attr("x",px+3).attr("y",p.top+11)
        .attr("font-family","'DejaVu Sans Mono',monospace").attr("font-size","9.5px")
        .attr("fill","#333").text(pk.label);
    }
  });
  const ax = d3.axisLeft(y).tickValues(p.ticks).tickFormat((d,i)=>p.labels[i]).tickSize(4).tickPadding(3);
  const axg = svg.append("g").attr("transform",`translate(${left},0)`).call(ax);
  axg.select(".domain").attr("stroke","#9a9a9a").attr("d",`M0,${p.top}V${p.bottom}`);
  axg.selectAll(".tick line").attr("stroke","#9a9a9a");
  axg.selectAll(".tick text").attr("font-family","'DejaVu Sans',sans-serif").attr("font-size","10.8px").attr("fill","#444");
  svg.append("text").attr("transform",`translate(${p.labelX},${(p.top+p.bottom)/2}) rotate(-90)`)
    .attr("text-anchor","middle").attr("font-size","13.5px").attr("fill","#333").text(p.name);
});

svg.append("rect").attr("x",left).attr("y",34).attr("width",right-left).attr("height",902-34)
  .attr("fill","none").attr("stroke","#a8a8a8").attr("stroke-width",1);
[322,613].forEach(yy=>{
  svg.append("line").attr("x1",left).attr("x2",right).attr("y1",yy).attr("y2",yy)
    .attr("stroke","#b4b4b4").attr("stroke-width",2.5);
});

const xAxis = d3.axisBottom(x).tickValues(timeTickSeconds).tickFormat((d,i)=>timeTickLabels[i]).tickSize(4).tickPadding(3);
const xg = svg.append("g").attr("transform","translate(0,902)").call(xAxis);
xg.select(".domain").attr("stroke","#9a9a9a").attr("d",`M${left},0H${right}`);
xg.selectAll(".tick line").attr("stroke","#9a9a9a");
xg.selectAll(".tick text").attr("font-family","'DejaVu Sans',sans-serif").attr("font-size","10.8px").attr("fill","#444");

svg.append("text").attr("x",(left+right)/2).attr("y",935).attr("text-anchor","middle")
  .attr("font-size","13.5px").attr("fill","#333").text("Time (sec)");

const lg = svg.append("g");
const box = lg.append("rect").attr("fill","#fff").attr("stroke","#000").attr("stroke-width",1);
let cx = 3;
seriesNames.forEach((n,i)=>{
  lg.append("line").attr("x1",cx).attr("x2",cx+15).attr("y1",959).attr("y2",959).attr("stroke","#000").attr("stroke-width",1);
  const t = lg.append("text").attr("x",cx+21).attr("y",964).attr("font-size","13.5px").attr("fill","#111").text(n);
  cx += 21 + t.node().getComputedTextLength() + 6;
});
const lw = cx;
box.attr("x",0).attr("y",948.5).attr("width",lw).attr("height",30);
lg.attr("transform",`translate(${Math.round(608.5 - lw/2)+0.5},0)`);
</script>
</body></html>
